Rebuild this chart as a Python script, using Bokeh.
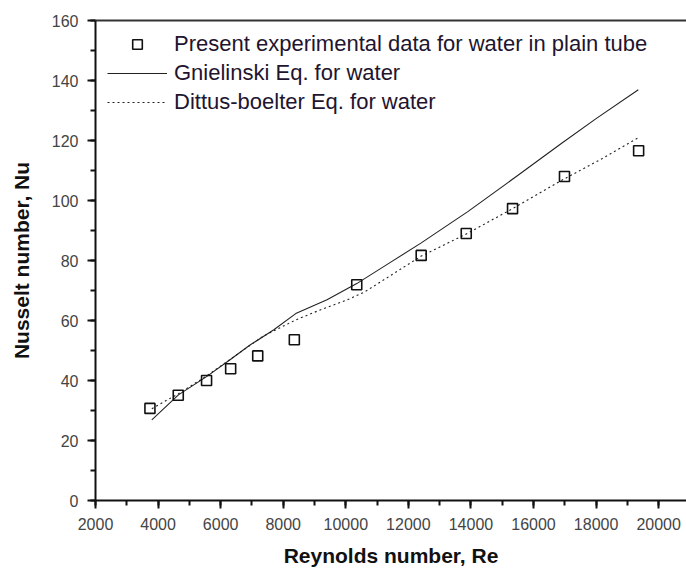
from bokeh.plotting import figure
from bokeh.models import (Range1d, LinearAxis, SingleIntervalTicker, FixedTicker,
                          Legend, LegendItem)
from bokeh.embed import file_html
from bokeh.resources import INLINE

# Experimental Nusselt numbers for water in a plain tube
re_exp = [3740, 4645, 5550, 6320, 7185, 8355, 10350, 12410, 13850, 15330, 16990, 19360]
nu_exp = [30.7, 35.1, 40.0, 43.9, 48.2, 53.6, 71.9, 81.7, 89.0, 97.3, 108.0, 116.6]

# Gnielinski correlation
gn_re = [3800, 4650, 5550, 6300, 6950, 7700, 8400, 9400, 10350, 11400, 12400, 13900,
         15450, 16900, 18000, 19350]
gn_nu = [26.9, 35.2, 41.3, 46.9, 51.9, 56.9, 62.3, 66.9, 72.3, 79.2, 85.8, 96.3,
         108.0, 119.1, 127.3, 136.9]

# Dittus-Boelter correlation
db_re = [3800, 4650, 5550, 6500, 7350, 8400, 9200, 10050, 10600, 12400, 13900, 15350,
         16950, 18200, 19350]
db_nu = [30.6, 35.6, 41.5, 48.5, 54.7, 60.2, 63.6, 66.9, 69.5, 81.4, 89.1, 97.4,
         107.0, 114.0, 120.9]

FONT = "Liberation Sans"
INK = "#111111"

p = figure(width=686, height=572, output_backend="svg", toolbar_location=None,
           x_range=Range1d(2000, 20890), y_range=Range1d(0, 160),
           min_border_left=95, min_border_right=0, min_border_top=20,
           min_border_bottom=72, outline_line_color=None)
p.background_fill_color = "white"
p.border_fill_color = "white"
p.grid.visible = False

r_gn = p.line(gn_re, gn_nu, line_color="#222222", line_width=1.1)
r_db = p.line(db_re, db_nu, line_color="#222222", line_width=1.1, line_dash="2 3")
r_exp = p.scatter(re_exp, nu_exp, marker="square", size=10, line_color=INK,
                  line_width=1.6, fill_color=None)

xa = p.xaxis[0]
xa.ticker = SingleIntervalTicker(interval=2000, num_minor_ticks=2)
ya = p.yaxis[0]
ya.ticker = SingleIntervalTicker(interval=20, num_minor_ticks=2)

for ax in (xa, ya):
    ax.axis_line_width = 2
    ax.axis_line_color = INK
    ax.major_tick_line_width = 2
    ax.major_tick_line_color = INK
    ax.minor_tick_line_width = 2
    ax.minor_tick_line_color = INK
    ax.major_tick_out = 8
    ax.major_tick_in = 0
    ax.minor_tick_out = 5
    ax.minor_tick_in = 0
    ax.major_label_text_font = FONT
    ax.major_label_text_font_size = "16px"
    ax.major_label_text_color = "#444444"
    ax.axis_label_text_font = FONT
    ax.axis_label_text_font_style = "bold"
    ax.axis_label_text_font_size = "21px"
    ax.axis_label_text_color = INK

xa.axis_label = "Reynolds number, Re"
xa.major_label_standoff = 9
xa.axis_label_standoff = 11
ya.axis_label = "Nusselt number, Nu"
ya.major_label_standoff = 9
ya.axis_label_standoff = 16

# frame line along the top edge
top = LinearAxis(ticker=FixedTicker(ticks=[]), axis_line_width=2,
                 axis_line_color="#333333", major_tick_out=0, minor_tick_out=0,
                 major_label_text_font_size="0px")
p.add_layout(top, "above")

legend = Legend(items=[
    LegendItem(label="Present experimental data for water in plain tube", renderers=[r_exp]),
    LegendItem(label="Gnielinski Eq. for water", renderers=[r_gn]),
    LegendItem(label="Dittus-boelter Eq. for water", renderers=[r_db]),
], location=(12, 385), padding=0, margin=0, spacing=3,
    glyph_width=60, glyph_height=24, label_height=24, label_standoff=7,
    label_text_font=FONT, label_text_font_size="22px", label_text_color="#22142e",
    background_fill_alpha=0, border_line_color=None)
p.add_layout(legend, "center")

open("out.html", "w").write(file_html(p, INLINE))
